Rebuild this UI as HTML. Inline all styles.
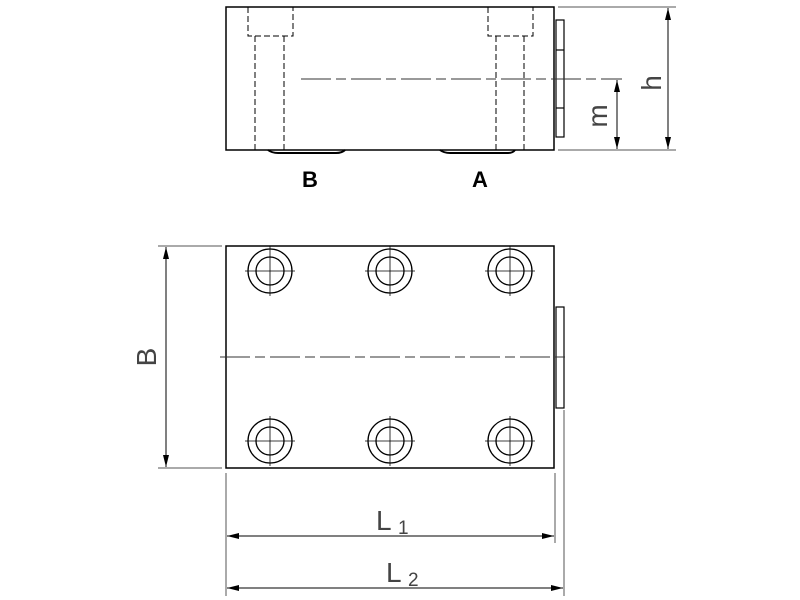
<!DOCTYPE html>
<html><head><style>body{margin:0;background:#fff}svg{display:block}</style></head>
<body>
<svg width="800" height="600" viewBox="0 0 800 600" xmlns="http://www.w3.org/2000/svg">
<defs>
<marker id="a" viewBox="0 0 12 6" refX="12" refY="3" markerWidth="12" markerHeight="6" orient="auto-start-reverse" markerUnits="userSpaceOnUse"><path d="M0,0L12,3L0,6z" fill="#000"/></marker>
</defs>
<g fill="none" stroke="#000" stroke-width="1.5">
<rect x="226" y="7" width="328" height="143"/>
<rect x="556" y="20" width="8" height="117" stroke-width="1.2"/>
<line x1="556" y1="50" x2="564" y2="50" stroke-width="1.2"/>
<line x1="556" y1="108" x2="564" y2="108" stroke-width="1.2"/>
<g stroke-dasharray="6,3" stroke-width="1">
<path d="M248,7V36H293V7M255,36V150M284,36V150"/>
<path d="M488,7V36H533V7M496,36V150M524,36V150"/>
</g>
<line x1="301" y1="79" x2="622" y2="79" stroke-width="1" stroke-dasharray="30,5,10,5" stroke="#333"/>
<path d="M268,150Q272,153 278,153H336Q342,153 345,150" stroke-width="2"/>
<path d="M440,150Q444,153 450,153H508Q513,153 515,150" stroke-width="2"/>
<g stroke="#555" stroke-width="1">
<line x1="558" y1="7" x2="676" y2="7"/>
<line x1="558" y1="150" x2="676" y2="150"/>
</g>
<line x1="668" y1="8" x2="668" y2="149" stroke-width="1" marker-start="url(#a)" marker-end="url(#a)"/>
<line x1="617" y1="80" x2="617" y2="149" stroke-width="1" marker-start="url(#a)" marker-end="url(#a)"/>
<rect x="226" y="246" width="328" height="222"/>
<rect x="556" y="307" width="8" height="101" stroke-width="1.2"/>
<line x1="220" y1="357" x2="568" y2="357" stroke-width="1" stroke-dasharray="30,5,10,5" stroke="#333"/>
<g stroke-width="1.3">
<circle cx="270" cy="271" r="22"/><circle cx="270" cy="271" r="14"/>
<circle cx="390" cy="271" r="22"/><circle cx="390" cy="271" r="14"/>
<circle cx="510" cy="271" r="22"/><circle cx="510" cy="271" r="14"/>
<circle cx="270" cy="441" r="22"/><circle cx="270" cy="441" r="14"/>
<circle cx="390" cy="441" r="22"/><circle cx="390" cy="441" r="14"/>
<circle cx="510" cy="441" r="22"/><circle cx="510" cy="441" r="14"/>
</g>
<g stroke-width="0.8">
<path d="M245,271H295M270,246V296M365,271H415M390,246V296M485,271H535M510,246V296"/>
<path d="M245,441H295M270,416V466M365,441H415M390,416V466M485,441H535M510,416V466"/>
</g>
<g stroke="#555" stroke-width="1">
<line x1="158" y1="246" x2="222" y2="246"/>
<line x1="158" y1="468" x2="222" y2="468"/>
<line x1="226" y1="473" x2="226" y2="596"/>
<line x1="555" y1="473" x2="555" y2="543"/>
<line x1="564" y1="410" x2="564" y2="596"/>
</g>
<line x1="166" y1="247" x2="166" y2="467" stroke-width="1" marker-start="url(#a)" marker-end="url(#a)"/>
<line x1="227" y1="536" x2="554" y2="536" stroke-width="1" marker-start="url(#a)" marker-end="url(#a)"/>
<line x1="227" y1="588" x2="563" y2="588" stroke-width="1" marker-start="url(#a)" marker-end="url(#a)"/>
</g>
<g font-family="Liberation Sans, sans-serif" fill="#000">
<text x="310" y="187" font-size="22" font-weight="bold" text-anchor="middle">B</text>
<text x="480" y="187" font-size="22" font-weight="bold" text-anchor="middle">A</text>
<g fill="#444" font-size="28">
<text transform="translate(661,83) rotate(-90)" text-anchor="middle">h</text>
<text transform="translate(607,116) rotate(-90)" text-anchor="middle">m</text>
<text transform="translate(156,357) rotate(-90)" text-anchor="middle">B</text>
<text x="376" y="530">L</text><text x="398" y="534" font-size="19">1</text>
<text x="386" y="582">L</text><text x="408" y="586" font-size="19">2</text>
</g>
</g>
</svg>
</body></html>
